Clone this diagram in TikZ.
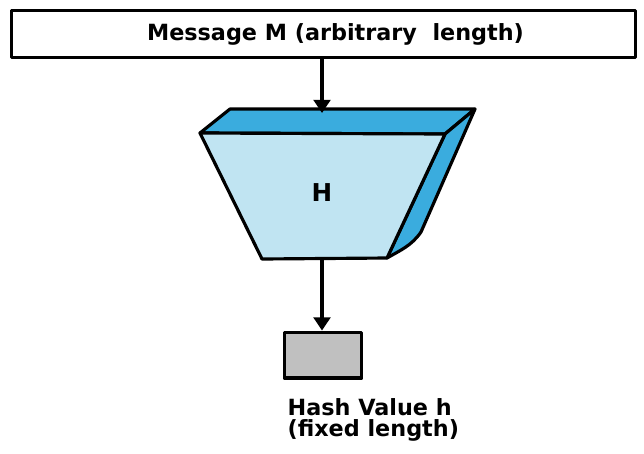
\documentclass[tikz,border=0pt]{standalone}
\usepackage{fontspec}
\setmainfont{DejaVu Sans}
\usetikzlibrary{arrows.meta}

\definecolor{facedark}{RGB}{58,172,222}
\definecolor{facelight}{RGB}{192,228,242}
\definecolor{hashgrey}{RGB}{192,192,192}

\begin{document}
\begin{tikzpicture}[x=0.02cm, y=-0.02cm, line width=1.8pt, line join=round,
	box/.style={draw, inner sep=0pt},
	label text/.style={inner sep=0pt, font=\bfseries\fontsize{12.7}{12.2}\selectfont},
	flow/.style={-{Triangle[length=7.5pt, width=9.5pt]}}]

	\def\px{0.567pt}
	\useasboundingbox (0,0) rectangle (644,453);

	% message
	\node[box, minimum width=627*\px, minimum height=48*\px] (msg) at (323.5,34) {};
	\node[label text] (msgtxt) at (335.5,34) {Message M (arbitrary\ \ length)};

	% hash function block
	\draw[fill=facedark] (200,133) -- (230,109) -- (475,109) -- (445,134) -- cycle;
	\draw[fill=facedark] (445,134) -- (475,109) -- (421,232) to[out=235, in=30] (387,258) -- cycle;
	\draw[fill=facelight] (200,133) -- (445,134) -- (387,258) -- (262,259) -- cycle;
	\node[font=\bfseries\fontsize{14}{16}\selectfont] (hfun) at (322,193) {H};
	\coordinate (hin) at (322,113);
	\coordinate (hout) at (322,259);

	% hash value
	\node[box, fill=hashgrey, minimum width=78*\px, minimum height=46*\px] (hval) at (323,355) {};
	\node[label text, anchor=north west, align=left] (hlbl) at (286,397) {Hash Value h\\(fixed length)};

	\draw[flow] (msg.south -| hin) -- (hin);
	\draw[flow] (hout) -- (hout |- hval.north);

\end{tikzpicture}
\end{document}
